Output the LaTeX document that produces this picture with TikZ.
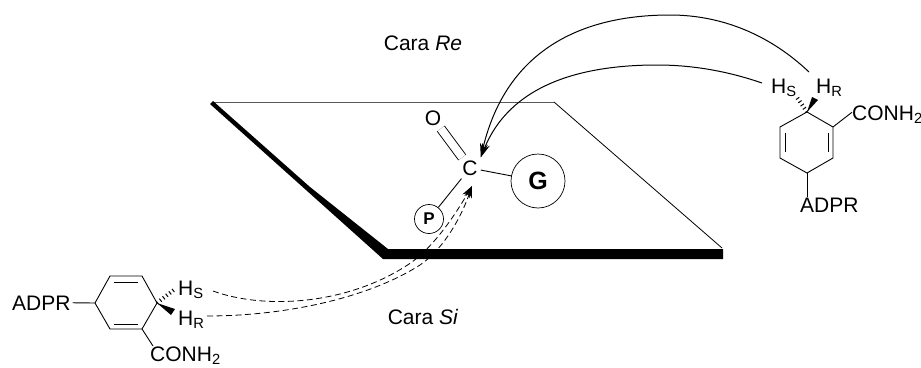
\documentclass[tikz,border=0pt]{standalone}
\usepackage{fontspec}
\setmainfont{Liberation Sans}
\usetikzlibrary{arrows.meta}
\tikzset{
    atom/.style={inner sep=0pt,font=\fontsize{21}{23}\selectfont},
    bond/.style={line width=0.9pt},
    hashbond/.style={line width=4pt,dash pattern=on 1pt off 3pt},
    approach/.style={line width=1pt,-{Stealth[length=14pt,width=8pt]}},
    hydride/.style={line width=0.8pt,dash pattern=on 6pt off 3.5pt,-{Stealth[length=12pt,width=8pt]}},
}

\begin{document}
\begin{tikzpicture}[x=1pt,y=-1pt]
    \clip (0,0) rectangle (921,367);
    % plane
    \draw[gray!70!black,line width=0.9pt] (213,102) -- (554,102);
    \draw[line width=0.8pt] (554,102) -- (722,248);
    \fill (210,104) -- (213,101) -- (310,187) -- (388,249) -- (723,249) -- (723,259) -- (383,259) -- cycle;
    \node[atom] at (423,43) {Cara \textit{Re}};
    \node[atom] at (423,317) {Cara \textit{Si}};
    % carbonyl
    \node (C) [atom,inner sep=3pt] at (470,168) {C};
    \node (O) [atom,inner sep=3pt] at (433,118) {O};
    \node (G) [atom,draw,circle,line width=0.7pt,minimum size=54pt,font=\fontsize{25}{27}\selectfont] at (538,181) {\textbf{G}};
    \node (P) [atom,draw,circle,line width=0.7pt,minimum size=29pt,font=\fontsize{17}{19}\selectfont] at (429,219) {\textbf{P}};
    \draw[bond,double,double distance=8pt] (O) -- (C);
    \draw[bond] (C) -- (G);
    \draw[bond] (C) -- (P);
    % ring on the Re side
    \coordinate (rt) at (807,112);
    \coordinate (rr) at (833,127);
    \coordinate (rs) at (833,158);
    \coordinate (rb) at (807,173);
    \coordinate (ru) at (780,158);
    \coordinate (rl) at (780,127);
    \draw[bond] (rt) -- (rr) -- (rs) -- (rb) -- (ru) -- (rl) -- cycle;
    \draw[bond,shorten >=6pt,shorten <=6pt] ([xshift=-5pt]rr) -- ([xshift=-5pt]rs);
    \draw[bond,shorten >=6pt,shorten <=6pt] ([xshift=5pt]rl) -- ([xshift=5pt]ru);
    \node (rHS) [atom,anchor=base west] at (771,93) {H\textsubscript{S}};
    \node (rHR) [atom,anchor=base west] at (816,93) {H\textsubscript{R}};
    \node (rCONH) [atom,anchor=base west] at (852,120) {CONH\textsubscript{2}};
    \node (rADPR) [atom,anchor=base west] at (800,212) {ADPR};
    \draw[bond] (rr) -- ([yshift=2pt]rCONH.west);
    \draw[bond] (rb) -- (rb |- rADPR.north);
    \fill (rt) -- (812,97) -- (818,100) -- cycle;
    \draw[hashbond] (rt) -- (796,96);
    % ring on the Si side
    \coordinate (lr) at (157,303);
    \coordinate (lt) at (142,276);
    \coordinate (lu) at (110,276);
    \coordinate (ll) at (95,303);
    \coordinate (lv) at (110,329);
    \coordinate (lb) at (142,329);
    \draw[bond] (lr) -- (lt) -- (lu) -- (ll) -- (lv) -- (lb) -- cycle;
    \draw[bond,shorten >=4pt,shorten <=4pt] ([yshift=-6pt]lt) -- ([yshift=-6pt]lu);
    \draw[bond,shorten >=4pt,shorten <=4pt] ([yshift=5pt]lb) -- ([yshift=5pt]lv);
    \node (lHS) [atom,anchor=base west] at (178,295) {H\textsubscript{S}};
    \node (lHR) [atom,anchor=base west] at (178,325) {H\textsubscript{R}};
    \node (lCONH) [atom,anchor=base west] at (150,361) {CONH\textsubscript{2}};
    \node (lADPR) [atom,anchor=base west] at (12,310) {ADPR};
    \draw[bond] (lb) -- (153,346);
    \draw[bond] (lADPR.east) ++(2pt,0) -- (ll);
    \fill (lr) -- (175,309) -- (171,315) -- cycle;
    \draw[hashbond] (lr) -- (175,289);
    % hydride paths
    \coordinate (startS) at (762,83);
    \coordinate (startR) at (809,72);
    \coordinate (leftS) at (213,291);
    \coordinate (leftR) at (207,316);
    \coordinate (tip) at (472,186);
    \draw[approach] (startR) .. controls (770,35) and (722,15) .. (670,15) .. controls (575,15) and (505,55) .. (C.north east);
    \draw[approach] (startS) .. controls (730,72) and (695,65) .. (657,65) .. controls (580,65) and (510,85) .. (C.north east);
    \draw[hydride] (leftS) .. controls (265,310) and (350,305) .. (412,262) .. controls (435,245) and (455,215) .. (tip);
    \draw[hydride] (leftR) .. controls (280,316) and (365,300) .. (420,265) .. controls (445,248) and (462,215) .. (tip);
\end{tikzpicture}
\end{document}
